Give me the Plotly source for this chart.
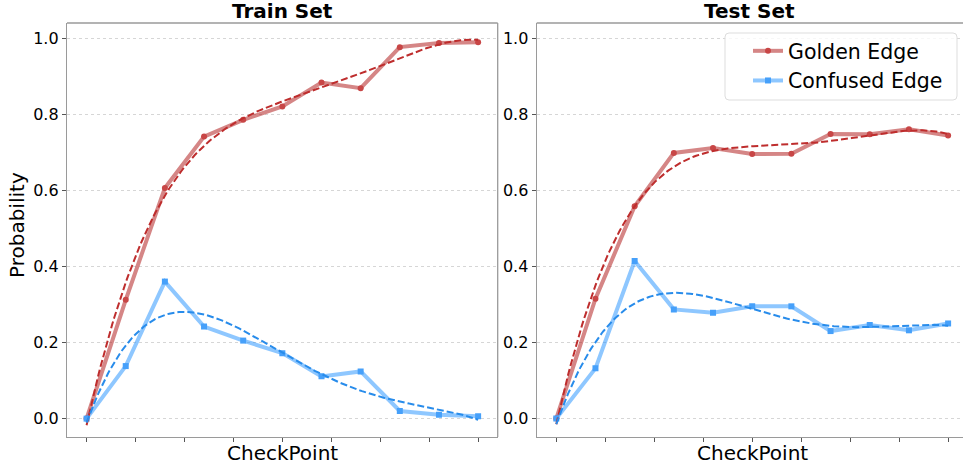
import numpy as np
import plotly.graph_objects as go

checkpoints = list(range(11))
train_golden = [0.0, 0.312, 0.606, 0.741, 0.785, 0.820, 0.883, 0.868, 0.976, 0.987, 0.989]
train_confused = [0.0, 0.138, 0.360, 0.242, 0.205, 0.172, 0.111, 0.124, 0.020, 0.010, 0.006]
test_golden = [0.0, 0.315, 0.558, 0.698, 0.711, 0.695, 0.696, 0.748, 0.747, 0.760, 0.744]
test_confused = [0.0, 0.132, 0.414, 0.287, 0.278, 0.295, 0.295, 0.230, 0.246, 0.232, 0.250]
fit_degree = 4
xtick_vals = [0, 1.25, 2.5, 3.75, 5, 6.25, 7.5, 8.75, 10]
ytick_vals = [0.0, 0.2, 0.4, 0.6, 0.8, 1.0]

W, H = 963, 468
ML, MR, MT, MB = 67, 0, 23, 31
PW, PH = W - ML - MR, H - MT - MB

def px_x(p):
    return (p - ML) / PW

def px_y(p):
    return (H - MB - p) / PH

G_SOLID = "rgba(178,34,34,0.55)"
G_DASH = "rgb(190,45,45)"
G_MARK = "rgb(200,70,70)"
C_SOLID = "rgba(30,144,255,0.5)"
C_DASH = "rgb(40,140,235)"
C_MARK = "rgb(70,160,250)"

fig = go.Figure()
panels = [("x", "y", train_golden, train_confused), ("x2", "y2", test_golden, test_confused)]
xf = np.linspace(0, 10, 200)
for i, (xa, ya, g, c) in enumerate(panels):
    fig.add_trace(go.Scatter(x=checkpoints, y=g, mode="lines+markers", name="Golden Edge",
                             line=dict(color=G_SOLID, width=4),
                             marker=dict(symbol="circle", size=6, color=G_MARK),
                             xaxis=xa, yaxis=ya, showlegend=(i == 1)))
    fig.add_trace(go.Scatter(x=checkpoints, y=c, mode="lines+markers", name="Confused Edge",
                             line=dict(color=C_SOLID, width=4),
                             marker=dict(symbol="square", size=6, color=C_MARK),
                             xaxis=xa, yaxis=ya, showlegend=(i == 1)))
    gf = np.polyval(np.polyfit(checkpoints, g, fit_degree), xf)
    cf = np.polyval(np.polyfit(checkpoints, c, fit_degree), xf)
    fig.add_trace(go.Scatter(x=xf, y=gf, mode="lines", line=dict(color=G_DASH, width=2, dash="7px,3px"),
                             xaxis=xa, yaxis=ya, showlegend=False, hoverinfo="skip"))
    fig.add_trace(go.Scatter(x=xf, y=cf, mode="lines", line=dict(color=C_DASH, width=2, dash="7px,3px"),
                             xaxis=xa, yaxis=ya, showlegend=False, hoverinfo="skip"))

axis_common = dict(showline=True, linecolor="#9a9a9a", linewidth=1.3, mirror=False,
                   ticks="outside", ticklen=4, tickcolor="#555", tickwidth=1, zeroline=False)
grid = dict(showgrid=True, gridcolor="#d6d6d6", griddash="dot", gridwidth=0.8)
fig.update_layout(
    width=W, height=H, margin=dict(l=ML, r=MR, t=MT, b=MB),
    paper_bgcolor="white", plot_bgcolor="white",
    font=dict(family="DejaVu Sans", color="black"),
    xaxis=dict(domain=[0, px_x(497.7)], range=[-0.5, 10.5], tickvals=xtick_vals, showticklabels=False,
               showgrid=False, **axis_common),
    xaxis2=dict(domain=[px_x(536.7), 1], range=[-0.5, 10.38], tickvals=xtick_vals, showticklabels=False,
                showgrid=False, anchor="y2", **axis_common),
    yaxis=dict(range=[-0.0483, 1.0394], tickvals=ytick_vals, tickformat=".1f", tickfont=dict(size=16),
               **grid, **axis_common),
    yaxis2=dict(range=[-0.0483, 1.0394], tickvals=ytick_vals, tickformat=".1f", tickfont=dict(size=16),
                anchor="x2", **grid, **axis_common),
    legend=dict(x=px_x(748), y=px_y(31), xanchor="left", yanchor="top", bgcolor="rgba(0,0,0,0)",
                borderwidth=0, font=dict(size=20.5, family="DejaVu Sans")),
    showlegend=True,
)

# top spines
for xr in ["x domain", "x2 domain"]:
    yr = "y domain" if xr == "x domain" else "y2 domain"
    fig.add_shape(type="line", xref=xr, yref=yr, x0=0, x1=1, y0=1, y1=1,
                  line=dict(color="#9a9a9a", width=1.3))
fig.add_shape(type="line", xref="x domain", yref="y domain", x0=1, x1=1, y0=0, y1=1,
              line=dict(color="#9a9a9a", width=1.3))

# legend frame (rounded rectangle, pixel coordinates converted to paper)
lx0, lx1, ly0, ly1, r = 725, 957, 33, 100, 4
pts = [
    f"M {px_x(lx0 + r)},{px_y(ly0)}", f"L {px_x(lx1 - r)},{px_y(ly0)}",
    f"Q {px_x(lx1)},{px_y(ly0)} {px_x(lx1)},{px_y(ly0 + r)}", f"L {px_x(lx1)},{px_y(ly1 - r)}",
    f"Q {px_x(lx1)},{px_y(ly1)} {px_x(lx1 - r)},{px_y(ly1)}", f"L {px_x(lx0 + r)},{px_y(ly1)}",
    f"Q {px_x(lx0)},{px_y(ly1)} {px_x(lx0)},{px_y(ly1 - r)}", f"L {px_x(lx0)},{px_y(ly0 + r)}",
    f"Q {px_x(lx0)},{px_y(ly0)} {px_x(lx0 + r)},{px_y(ly0)}", "Z",
]
fig.add_shape(type="path", xref="paper", yref="paper", path=" ".join(pts),
              line=dict(color="#dddddd", width=1), fillcolor="rgba(255,255,255,0.8)", layer="above")

anns = [
    dict(text="<b>Train Set</b>", xref="x domain", yref="y domain", x=0.5, y=1, yanchor="bottom", yshift=-2,
         font=dict(size=20)),
    dict(text="<b>Test Set</b>", xref="x2 domain", yref="y2 domain", x=0.5, y=1, yanchor="bottom", yshift=-2,
         font=dict(size=20)),
    dict(text="CheckPoint", xref="x domain", yref="paper", x=0.5, y=px_y(453), yanchor="middle",
         font=dict(size=20)),
    dict(text="CheckPoint", xref="x2 domain", yref="paper", x=(752 - 536.7) / (963 - 536.7), y=px_y(453),
         yanchor="middle", font=dict(size=20)),
    dict(text="Probability", xref="paper", yref="paper", x=px_x(17.5), y=px_y(225.5), textangle=-90,
         xanchor="center", yanchor="middle", font=dict(size=20)),
]
for a in anns:
    a.update(showarrow=False)
    fig.add_annotation(**a)

fig.write_html("out.html", config={"displayModeBar": False},
               post_script="document.body.style.margin='0';document.body.style.overflow='hidden';")
